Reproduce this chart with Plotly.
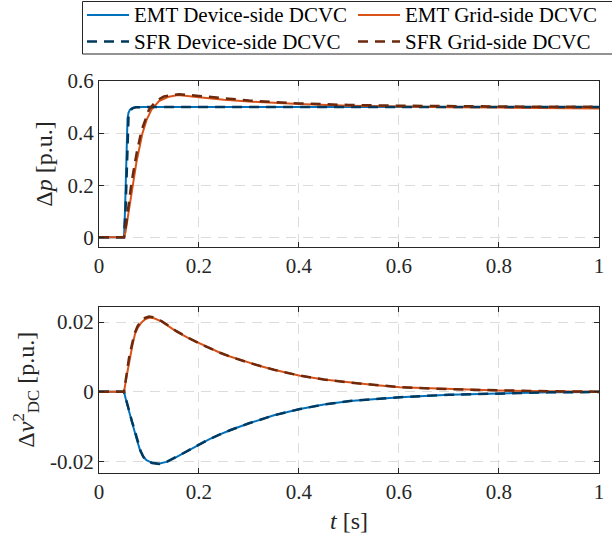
import plotly.graph_objects as go

# ---------------- data ----------------
# Top panel: power deviation
t_p_emt_dev = [0, 0.05, 0.052, 0.053, 0.055, 0.057, 0.059, 0.062, 0.066, 0.072, 0.09, 0.3, 0.6, 1.0]
p_emt_dev   = [0, 0, 0.10, 0.20, 0.40, 0.455, 0.478, 0.490, 0.496, 0.499, 0.500, 0.500, 0.500, 0.500]

t_p_sfr_dev = [0, 0.05, 0.053, 0.055, 0.057, 0.059, 0.061, 0.064, 0.068, 0.074, 0.09, 0.3, 0.6, 1.0]
p_sfr_dev   = [0, 0, 0.10, 0.25, 0.40, 0.46, 0.48, 0.49, 0.496, 0.499, 0.500, 0.500, 0.500, 0.500]

t_p_emt_grid = [0, 0.05, 0.053, 0.057, 0.062, 0.067, 0.075, 0.087, 0.095, 0.105, 0.12, 0.14, 0.158,
                0.2, 0.25, 0.3, 0.35, 0.4, 0.5, 0.6, 0.7, 0.8, 0.9, 1.0]
p_emt_grid   = [0, 0, 0.02, 0.07, 0.14, 0.20, 0.29, 0.40, 0.45, 0.49, 0.523, 0.540, 0.546,
                0.538, 0.528, 0.521, 0.516, 0.512, 0.505, 0.501, 0.499, 0.498, 0.496, 0.495]

t_p_sfr_grid = [0, 0.05, 0.055, 0.06, 0.065, 0.075, 0.085, 0.1, 0.115, 0.13, 0.15, 0.16,
                0.2, 0.25, 0.3, 0.4, 0.5, 0.6, 0.7, 0.8, 0.9, 1.0]
p_sfr_grid   = [0, 0, 0.06, 0.13, 0.21, 0.32, 0.41, 0.49, 0.525, 0.541, 0.548, 0.549,
                0.543, 0.533, 0.525, 0.514, 0.508, 0.505, 0.503, 0.502, 0.501, 0.501]

# Bottom panel: squared DC-voltage deviation
t_v_emt_grid = [0, 0.05, 0.056, 0.062, 0.067, 0.072, 0.078, 0.085, 0.093, 0.102, 0.11, 0.125, 0.14,
                0.155, 0.18, 0.209, 0.242, 0.262, 0.3, 0.322, 0.35, 0.402, 0.45, 0.502, 0.55,
                0.602, 0.7, 0.8, 0.9, 1.0]
v_emt_grid   = [0, 0, 0.0050, 0.0099, 0.0135, 0.0166, 0.0185, 0.0199, 0.0209, 0.0213, 0.0211, 0.0202,
                0.0188, 0.0173, 0.0153, 0.0133, 0.0112, 0.0101, 0.0083, 0.0074, 0.0063, 0.0046,
                0.0035, 0.0026, 0.0019, 0.0013, 0.0007, 0.0003, 0.0001, 0.0]

t_v_sfr_grid = [0, 0.05, 0.055, 0.06, 0.066, 0.071, 0.077, 0.084, 0.092, 0.1, 0.108, 0.125, 0.14,
                0.155, 0.18, 0.209, 0.242, 0.262, 0.3, 0.322, 0.35, 0.402, 0.45, 0.502, 0.55,
                0.602, 0.7, 0.8, 0.9, 1.0]
v_sfr_grid   = [0, 0, 0.0048, 0.0097, 0.0136, 0.0167, 0.0188, 0.0203, 0.0212, 0.0216, 0.0214, 0.0203,
                0.0189, 0.0174, 0.0154, 0.0133, 0.0112, 0.0101, 0.0083, 0.0074, 0.0063, 0.0046,
                0.0035, 0.0026, 0.0019, 0.0013, 0.0007, 0.0003, 0.0001, 0.0]

t_v_emt_dev = [0, 0.05, 0.055, 0.06, 0.065, 0.069, 0.075, 0.082, 0.088, 0.095, 0.105, 0.119, 0.135,
               0.15, 0.165, 0.18, 0.2, 0.22, 0.242, 0.262, 0.3, 0.35, 0.402, 0.45, 0.502, 0.55,
               0.602, 0.7, 0.8, 0.9, 1.0]
v_emt_dev   = [0, 0, -0.0030, -0.0058, -0.0082, -0.0101, -0.0135, -0.0168, -0.0186, -0.0197, -0.0204,
               -0.0207, -0.0202, -0.0192, -0.0180, -0.0168, -0.0152, -0.0137, -0.0123, -0.0111,
               -0.0091, -0.0068, -0.0050, -0.0037, -0.0027, -0.0021, -0.0016, -0.0009, -0.0005,
               -0.0002, -0.0001]

t_v_sfr_dev = [0, 0.05, 0.056, 0.061, 0.066, 0.07, 0.076, 0.083, 0.089, 0.096, 0.106, 0.12, 0.135,
               0.15, 0.165, 0.18, 0.2, 0.22, 0.242, 0.262, 0.3, 0.35, 0.402, 0.45, 0.502, 0.55,
               0.602, 0.7, 0.8, 0.9, 1.0]
v_sfr_dev   = [0, 0, -0.0032, -0.0061, -0.0086, -0.0104, -0.0138, -0.0170, -0.0188, -0.0199, -0.0205,
               -0.0208, -0.0202, -0.0192, -0.0180, -0.0168, -0.0152, -0.0137, -0.0123, -0.0111,
               -0.0091, -0.0068, -0.0050, -0.0037, -0.0027, -0.0021, -0.0016, -0.0009, -0.0005,
               -0.0002, -0.0001]

series_names = ["EMT Device-side DCVC", "EMT Grid-side DCVC",
                "SFR Device-side DCVC", "SFR Grid-side DCVC"]

x_ticks = [0, 0.2, 0.4, 0.6, 0.8, 1]
x_ticktext = ["0", "0.2", "0.4", "0.6", "0.8", "1"]
p_ticks = [0, 0.2, 0.4, 0.6]
p_ticktext = ["0", "0.2", "0.4", "0.6"]
v_ticks = [-0.02, 0, 0.02]
v_ticktext = ["-0.02", "0", "0.02"]

# ---------------- style ----------------
W, H = 612, 542
ML, MR = 99, 13
PW = W - ML - MR
FONT = "Liberation Serif"
AX = "#262626"
GRID = "#dcdcdc"
BLUE = "#0072BD"
ORANGE = "#D95319"
DBLUE = "#00395E"
DORANGE = "#6C290C"
DASH = "10px,7px"

styles = [
    dict(color=BLUE, width=2, dash="solid"),
    dict(color=ORANGE, width=2, dash="solid"),
    dict(color=DBLUE, width=2.5, dash=DASH),
    dict(color=DORANGE, width=2.5, dash=DASH),
]


def px_x(px):
    return (px - ML) / PW


def px_y(py):
    return (H - py) / H


fig = go.Figure()

top = [(t_p_emt_dev, p_emt_dev), (t_p_emt_grid, p_emt_grid),
       (t_p_sfr_dev, p_sfr_dev), (t_p_sfr_grid, p_sfr_grid)]
bot = [(t_v_emt_dev, v_emt_dev), (t_v_emt_grid, v_emt_grid),
       (t_v_sfr_dev, v_sfr_dev), (t_v_sfr_grid, v_sfr_grid)]

for i, (tx, ty) in enumerate(top):
    fig.add_trace(go.Scatter(x=tx, y=ty, mode="lines", name=series_names[i],
                             line=styles[i], showlegend=False, xaxis="x", yaxis="y"))
for i, (tx, ty) in enumerate(bot):
    fig.add_trace(go.Scatter(x=tx, y=ty, mode="lines", name=series_names[i],
                             line=styles[i], showlegend=False, xaxis="x2", yaxis="y2"))

axis_common = dict(
    showline=True, linecolor=AX, linewidth=1, mirror="ticks",
    ticks="inside", ticklen=5, tickcolor=AX, tickwidth=1,
    showgrid=True, gridcolor=GRID, gridwidth=1, griddash="10px,7px",
    zeroline=False, automargin=False,
    tickfont=dict(family=FONT, size=21, color=AX),
)

fig.update_layout(
    width=W, height=H,
    margin=dict(l=ML, r=MR, t=0, b=0),
    paper_bgcolor="white", plot_bgcolor="white",
    font=dict(family=FONT, color=AX),
    xaxis=dict(axis_common, domain=[0, 1], range=[0, 1.0001], anchor="y",
               tickvals=x_ticks, ticktext=x_ticktext),
    yaxis=dict(axis_common, domain=[px_y(247), px_y(81)], range=[-0.037, 0.6001], anchor="x",
               tickvals=p_ticks, ticktext=p_ticktext,
               title=dict(text="Δ<i>p</i> [p.u.]", font=dict(family=FONT, size=24, color=AX),
                          standoff=8)),
    xaxis2=dict(axis_common, domain=[0, 1], range=[0, 1.0001], anchor="y2",
                tickvals=x_ticks, ticktext=x_ticktext,
                title=dict(text="<i>t</i> [s]", font=dict(family=FONT, size=24, color=AX),
                           standoff=8)),
    yaxis2=dict(axis_common, domain=[px_y(473), px_y(306.5)], range=[-0.0234, 0.0245], anchor="x2",
                tickvals=v_ticks, ticktext=v_ticktext,
                title=dict(text="Δ<i>v</i><sup>2</sup><sub>DC</sub> [p.u.]",
                           font=dict(family=FONT, size=24, color=AX), standoff=8)),
)

# ---------------- legend (drawn as a boxed key) ----------------
fig.add_shape(type="rect", xref="paper", yref="paper",
              x0=px_x(82.5), x1=px_x(640), y0=px_y(54), y1=px_y(1.5),
              line=dict(color=AX, width=1), fillcolor="white", layer="above")

rows = [15, 41.5]
cols = [(87, 129, 131.5), (358, 400, 403)]
layout_pos = [(0, 0), (0, 1), (1, 0), (1, 1)]
for i, (r, c) in enumerate(layout_pos):
    x0, x1, xt = cols[c]
    y = rows[r]
    fig.add_shape(type="line", xref="paper", yref="paper",
                  x0=px_x(x0), x1=px_x(x1), y0=px_y(y), y1=px_y(y),
                  line=dict(color=styles[i]["color"], width=styles[i]["width"],
                            dash=styles[i]["dash"]), layer="above")
    fig.add_annotation(xref="paper", yref="paper", x=px_x(xt), y=px_y(y),
                       xanchor="left", yanchor="middle", showarrow=False,
                       text=series_names[i], font=dict(family=FONT, size=21, color="black"))

fig.write_html("out.html", config={"displayModeBar": False},
               post_script="document.body.style.margin='0px';")
